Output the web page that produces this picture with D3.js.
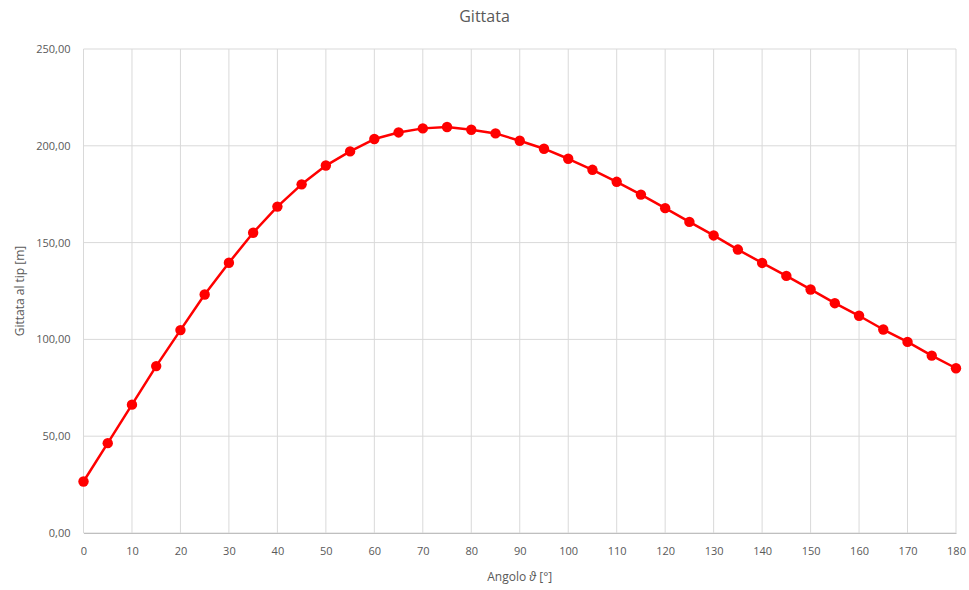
<!DOCTYPE html>
<html>
<head>
<meta charset="utf-8">
<script src="https://cdn.jsdelivr.net/npm/d3@7"></script>
<style>
  body { margin: 0; background: #fff; }
  text { font-family: "Open Sans", "Liberation Sans", sans-serif; fill: #595959; }
</style>
</head>
<body>
<div id="chart"></div>
<script>
// angles (deg) and range values (m)
var angles = [0, 5, 10, 15, 20, 25, 30, 35, 40, 45, 50, 55, 60, 65, 70, 75, 80, 85, 90,
              95, 100, 105, 110, 115, 120, 125, 130, 135, 140, 145, 150, 155, 160, 165, 170, 175, 180];
var gittata = [26.6, 46.4, 66.3, 86.2, 104.8, 123.2, 139.6, 155.1, 168.6, 180.1, 189.8, 197.1,
               203.5, 206.9, 209.0, 209.7, 208.3, 206.4, 202.6, 198.5, 193.3, 187.6, 181.4,
               174.8, 167.8, 160.7, 153.7, 146.4, 139.5, 132.8, 125.8, 118.7, 112.2, 105.1,
               98.7, 91.6, 85.1];
var xTicks = d3.range(0, 181, 10);
var yTicks = [0, 50, 100, 150, 200, 250];

var data = angles.map(function (a, i) { return {angle: a, value: gittata[i]}; });

var W = 969, H = 590;
var margin = {top: 49, right: 13, bottom: 57, left: 83.5},
    width = W - margin.left - margin.right,
    height = H - margin.top - margin.bottom;

var itFormat = d3.formatLocale({decimal: ",", thousands: ".", grouping: [3], currency: ["", "€"]}).format(".2f");

var svg = d3.select("#chart").append("svg")
    .attr("width", W)
    .attr("height", H);

var g = svg.append("g")
    .attr("transform", "translate(" + margin.left + "," + margin.top + ")");

var x = d3.scaleLinear().domain([0, 180]).range([0, width]);
var y = d3.scaleLinear().domain([0, 250]).range([height, 0]);

// grid
g.append("g").selectAll("line")
    .data(yTicks)
    .enter().append("line")
    .attr("x1", 0).attr("x2", width)
    .attr("y1", function (d) { return y(d); })
    .attr("y2", function (d) { return y(d); })
    .attr("stroke", "#d9d9d9").attr("stroke-width", 1);

g.append("g").selectAll("line")
    .data(xTicks)
    .enter().append("line")
    .attr("y1", 0).attr("y2", height)
    .attr("x1", function (d) { return x(d); })
    .attr("x2", function (d) { return x(d); })
    .attr("stroke", "#d9d9d9").attr("stroke-width", 1);

// x axis
var xAxis = g.append("g")
    .attr("transform", "translate(0," + height + ")")
    .call(d3.axisBottom(x).tickValues(xTicks).tickSize(0).tickPadding(14));
xAxis.select(".domain").attr("stroke", "#bfbfbf");
xAxis.selectAll("text").style("font-size", "11px").style("fill", "#595959");

// y axis
var yAxis = g.append("g")
    .call(d3.axisLeft(y).tickValues(yTicks).tickFormat(itFormat).tickSize(0).tickPadding(13));
yAxis.select(".domain").remove();
yAxis.selectAll("text").style("font-size", "11px").style("fill", "#595959");

// line
g.append("path")
    .datum(data)
    .attr("fill", "none")
    .attr("stroke", "#ff0000")
    .attr("stroke-width", 2.5)
    .attr("stroke-linejoin", "round")
    .attr("d", d3.line()
        .x(function (d) { return x(d.angle); })
        .y(function (d) { return y(d.value); }));

// markers
g.selectAll("circle")
    .data(data)
    .enter().append("circle")
    .attr("cx", function (d) { return x(d.angle); })
    .attr("cy", function (d) { return y(d.value); })
    .attr("r", 5.2)
    .attr("fill", "#ff0000");

// title
svg.append("text")
    .attr("x", W / 2).attr("y", 22)
    .attr("text-anchor", "middle")
    .style("font-size", "16px")
    .text("Gittata");

// axis titles
var xt = svg.append("text")
    .attr("x", margin.left + width / 2).attr("y", 581)
    .attr("text-anchor", "middle")
    .style("font-size", "12px");
xt.append("tspan").text("Angolo ");
xt.append("tspan").style("font-style", "italic").text("ϑ");
xt.append("tspan").text(" [°]");

svg.append("text")
    .attr("transform", "translate(24," + (margin.top + height / 2) + ") rotate(-90)")
    .attr("text-anchor", "middle")
    .style("font-size", "12px")
    .text("Gittata al tip [m]");
</script>
</body>
</html>
